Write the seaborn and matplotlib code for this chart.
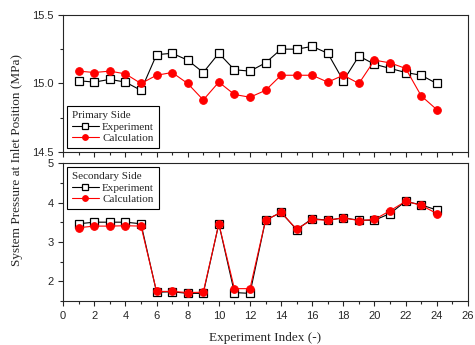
import numpy as np
import pandas as pd
import matplotlib
matplotlib.use('Agg')
import matplotlib.pyplot as plt
from matplotlib.ticker import MultipleLocator, FormatStrFormatter
import seaborn as sns

idx = list(range(1, 25))

# primary side pressure (MPa)
prim_exp = [15.02, 15.01, 15.03, 15.01, 14.95, 15.21, 15.22, 15.17, 15.08, 15.22, 15.10, 15.09,
            15.15, 15.25, 15.25, 15.27, 15.22, 15.02, 15.20, 15.14, 15.11, 15.08, 15.06, 15.00]
prim_calc = [15.09, 15.08, 15.09, 15.07, 15.00, 15.06, 15.08, 15.00, 14.88, 15.01, 14.92, 14.90,
             14.95, 15.06, 15.06, 15.06, 15.01, 15.06, 15.00, 15.17, 15.15, 15.11, 14.91, 14.81]

# secondary side pressure (MPa)
sec_exp = [3.46, 3.50, 3.50, 3.50, 3.46, 1.72, 1.73, 1.69, 1.69, 3.46, 1.71, 1.69,
           3.55, 3.75, 3.31, 3.59, 3.55, 3.61, 3.55, 3.55, 3.72, 4.03, 3.94, 3.81]
sec_calc = [3.36, 3.40, 3.40, 3.41, 3.40, 1.74, 1.74, 1.71, 1.72, 3.46, 1.81, 1.81,
            3.55, 3.75, 3.32, 3.57, 3.55, 3.61, 3.54, 3.57, 3.79, 4.03, 3.93, 3.72]

sns.set_style('ticks')
plt.rcParams['font.family'] = ['Liberation Sans', 'DejaVu Sans']
serif = ['Liberation Serif', 'DejaVu Serif']

fig = plt.figure(figsize=(4.75, 3.45), dpi=100)
ax1 = fig.add_axes([0.133, 0.559, 0.852, 0.398])
ax2 = fig.add_axes([0.133, 0.128, 0.852, 0.399])


def draw(ax, exp, calc, title):
    sns.lineplot(x=idx, y=exp, ax=ax, color='black', lw=0.8, marker='s', markersize=6,
                 markerfacecolor='white', markeredgecolor='black', markeredgewidth=0.9,
                 label='Experiment')
    sns.lineplot(x=idx, y=calc, ax=ax, color='red', lw=0.8, marker='o', markersize=5.5,
                 markerfacecolor='red', markeredgecolor='red', label='Calculation')
    ax.set_xlim(0, 26)
    ax.xaxis.set_major_locator(MultipleLocator(2))
    ax.xaxis.set_minor_locator(MultipleLocator(1))
    ax.tick_params(which='both', direction='out', labelsize=8, width=0.8, top=False, right=False)
    ax.tick_params(which='major', length=3.5)
    ax.tick_params(which='minor', length=2)
    for s in ax.spines.values():
        s.set_visible(True)
        s.set_linewidth(0.8)
    leg = ax.legend(title=title, frameon=True, fancybox=False, edgecolor='black', framealpha=1,
                    prop={'family': serif, 'size': 8}, handlelength=2.4, handletextpad=0.3,
                    borderpad=0.45, labelspacing=0.15, alignment='left', markerscale=0.75,
                    borderaxespad=0.35)
    leg.get_title().set_fontfamily(serif)
    leg.get_title().set_fontsize(8)
    leg.get_frame().set_linewidth(0.8)
    return leg


l1 = draw(ax1, prim_exp, prim_calc, 'Primary Side')
l1.set_loc('lower left')
ax1.set_ylim(14.5, 15.5)
ax1.yaxis.set_major_locator(MultipleLocator(0.5))
ax1.yaxis.set_minor_locator(MultipleLocator(0.25))
ax1.yaxis.set_major_formatter(FormatStrFormatter('%.1f'))
ax1.set_xticklabels([])

l2 = draw(ax2, sec_exp, sec_calc, 'Secondary Side')
l2.set_loc('upper left')
ax2.set_ylim(1.5, 5)
ax2.yaxis.set_major_locator(MultipleLocator(1))
ax2.yaxis.set_minor_locator(MultipleLocator(0.5))
ax2.set_xlabel('Experiment Index (-)', fontfamily=serif, fontsize=9.5, labelpad=8)

fig.text(0.035, 0.536, 'System Pressure at Inlet Position (MPa)', rotation=90,
         va='center', ha='center', fontfamily=serif, fontsize=9.5)

fig.savefig('out.png', dpi=100)
